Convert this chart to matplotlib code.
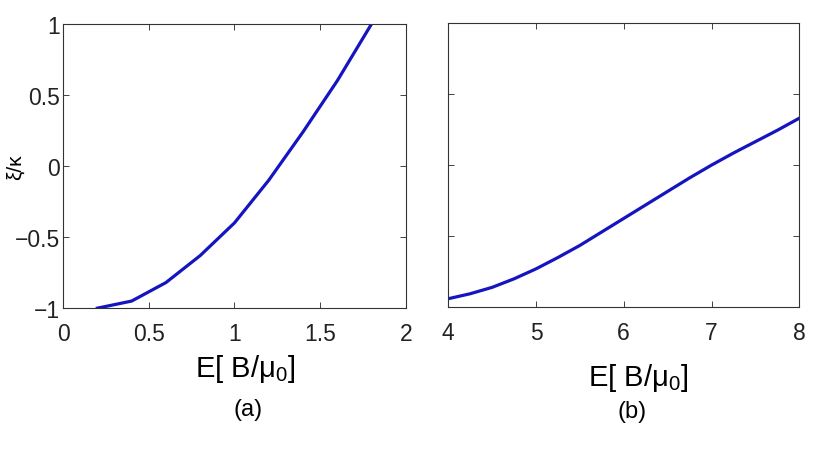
import numpy as np
import matplotlib
matplotlib.use('Agg')
import matplotlib.pyplot as plt

plt.rcParams['font.family'] = ['Liberation Sans', 'DejaVu Sans']
plt.rcParams['mathtext.fontset'] = 'custom'
plt.rcParams['mathtext.rm'] = 'Liberation Sans'
plt.rcParams['mathtext.it'] = 'Liberation Sans:italic'

## panel (a) values
E_a = [0.2, 0.4, 0.6, 0.8, 1.0, 1.2, 1.4, 1.6, 1.8]
xi_a = [-1.0, -0.95, -0.82, -0.63, -0.40, -0.10, 0.24, 0.60, 1.0]

## panel (b)
E_b = [4.0, 4.25, 4.5, 4.75, 5.0, 5.25, 5.5, 5.75, 6.0, 6.25, 6.5, 6.75, 7.0, 7.25, 7.5, 7.75, 8.0]
xi_b = [-0.94, -0.905, -0.86, -0.80, -0.73, -0.65, -0.565, -0.47, -0.375, -0.28, -0.185, -0.09, 0.0, 0.085, 0.165, 0.245, 0.33]

xticks_a = [0, 0.5, 1, 1.5, 2]
xticklabels_a = ['0', '0.5', '1', '1.5', '2']
xticks_b = [4, 5, 6, 7, 8]
yticks = [-1, -0.5, 0, 0.5, 1]
yticklabels = ['\u22121', '\u22120.5', '0', '0.5', '1']

line_col = '#1414c0'
xlab = r'E[ B/$\mathregular{\mu_0}$]'

fig = plt.figure(figsize=(8.3, 4.52), dpi=100)
ax1 = fig.add_axes([0.076, 0.316, 0.413, 0.629])
ax2 = fig.add_axes([0.540, 0.318, 0.423, 0.629])

for ax in (ax1, ax2):
    ax.tick_params(direction='in', top=True, right=True, length=4, width=0.6,
                   labelsize=16.5, colors='#222222')
    ax.tick_params(axis='x', pad=10)
    ax.tick_params(axis='y', pad=2)
    for s in ax.spines.values():
        s.set_linewidth(0.8)
        s.set_color('#333333')
    ax.set_ylim(-1, 1)
    ax.set_yticks(yticks)

ax1.plot(E_a, xi_a, color=line_col, linewidth=2.3)
ax1.set_xlim(0, 2)
ax1.set_xticks(xticks_a)
ax1.set_xticklabels(xticklabels_a)
ax1.set_yticklabels(yticklabels)
ax1.set_ylabel('\u03be/\u03ba', fontsize=15)
ax1.yaxis.set_label_coords(-0.112, 0.5)
ax1.set_xlabel(xlab, fontsize=21)
ax1.xaxis.set_label_coords(0.53, -0.155)

ax2.plot(E_b, xi_b, color=line_col, linewidth=2.3)
ax2.set_xlim(4, 8)
ax2.set_xticks(xticks_b)
ax2.set_yticklabels([])
ax2.set_xlabel(xlab, fontsize=21)
ax2.xaxis.set_label_coords(0.54, -0.19)

fig.text(0.299, 0.093, '(a)', fontsize=17, ha='center', va='center')
fig.text(0.762, 0.088, '(b)', fontsize=17, ha='center', va='center')

fig.savefig('out.png', dpi=100)
